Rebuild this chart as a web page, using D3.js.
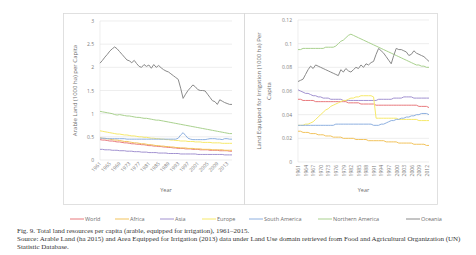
<!DOCTYPE html>
<html>
<head>
<meta charset="utf-8">
<script src="https://cdn.jsdelivr.net/npm/d3@7"></script>
<style>
  body { margin: 0; background: #fff; }
  svg { display: block; }
</style>
</head>
<body>
<svg id="chart" width="476" height="255"></svg>
<script>
// ---- data ----
var regions = ["World", "Africa", "Asia", "Europe", "South America", "Northern America", "Oceania"]
var colors = ["#e8797d", "#f2c35c", "#a292d0", "#f6e96a", "#8eb0e0", "#a9d18e", "#8a8a8a"]

var arableYears = d3.range(1961, 2016)
var arableTicks = [1961, 1965, 1969, 1973, 1977, 1981, 1985, 1989, 1993, 1997, 2001, 2005, 2009, 2013]
var arableWorld = [0.44,0.43,0.43,0.42,0.41,0.41,0.40,0.39,0.39,0.38, 0.37,0.37,0.36,0.35,0.35,0.34,0.34,0.33,0.33,0.32,
  0.31,0.31,0.30,0.30,0.29,0.29,0.28,0.28,0.27,0.27, 0.26,0.26,0.25,0.25,0.25,0.24,0.24,0.24,0.23,0.23,
  0.23,0.22,0.22,0.22,0.22,0.21,0.21,0.21,0.21,0.20, 0.20,0.20,0.20,0.19,0.19]
var arableAfrica = [0.48,0.47,0.46,0.46,0.45,0.44,0.43,0.43,0.42,0.41, 0.40,0.40,0.39,0.38,0.37,0.37,0.36,0.35,0.35,0.34,
  0.33,0.33,0.32,0.31,0.31,0.30,0.30,0.29,0.29,0.28, 0.28,0.27,0.27,0.26,0.26,0.26,0.25,0.25,0.25,0.24,
  0.24,0.24,0.23,0.23,0.23,0.23,0.22,0.22,0.22,0.22, 0.22,0.21,0.21,0.21,0.21]
var arableAsia = [0.23,0.23,0.22,0.22,0.22,0.21,0.21,0.21,0.20,0.20, 0.20,0.19,0.19,0.19,0.18,0.18,0.18,0.17,0.17,0.17,
  0.16,0.16,0.16,0.16,0.15,0.15,0.15,0.15,0.14,0.14, 0.14,0.14,0.14,0.13,0.13,0.13,0.13,0.13,0.13,0.13,
  0.12,0.12,0.12,0.12,0.12,0.12,0.12,0.12,0.12,0.12, 0.12,0.11,0.11,0.11,0.11]
var arableEurope = [0.63,0.62,0.61,0.60,0.59,0.58,0.57,0.56,0.56,0.55, 0.54,0.54,0.53,0.52,0.52,0.51,0.50,0.50,0.49,0.49,
  0.48,0.47,0.47,0.46,0.46,0.45,0.45,0.44,0.44,0.43, 0.43,0.42,0.42,0.41,0.41,0.41,0.40,0.40,0.40,0.39,
  0.39,0.39,0.38,0.38,0.38,0.38,0.37,0.37,0.37,0.37, 0.36,0.36,0.36,0.36,0.36]
var arableSAmerica = [0.47,0.47,0.47,0.46,0.46,0.46,0.46,0.46,0.46,0.46, 0.46,0.45,0.45,0.45,0.45,0.45,0.45,0.45,0.45,0.45,
  0.45,0.45,0.45,0.45,0.45,0.45,0.45,0.45,0.45,0.45, 0.45,0.45,0.47,0.54,0.59,0.53,0.47,0.45,0.44,0.44,
  0.44,0.44,0.44,0.44,0.45,0.46,0.46,0.46,0.45,0.45, 0.44,0.46,0.46,0.45,0.45]
var arableNAmerica = [1.05,1.04,1.03,1.02,1.01,1.00,0.98,0.97,0.98,0.97, 0.96,0.95,0.95,0.94,0.93,0.92,0.92,0.91,0.90,0.90,
  0.89,0.88,0.87,0.86,0.86,0.85,0.84,0.83,0.82,0.81, 0.80,0.79,0.78,0.77,0.76,0.75,0.74,0.73,0.72,0.71,
  0.70,0.69,0.68,0.67,0.66,0.65,0.64,0.63,0.62,0.61, 0.60,0.59,0.58,0.57,0.57]
var arableOceania = [2.09,2.15,2.22,2.28,2.35,2.40,2.44,2.40,2.34,2.28, 2.22,2.16,2.14,2.10,2.15,2.08,2.02,2.00,2.06,2.02,
  2.05,1.98,2.06,2.00,2.04,1.99,1.95,1.92,1.90,1.86, 1.82,1.78,1.74,1.55,1.33,1.42,1.50,1.56,1.62,1.58,
  1.52,1.50,1.50,1.49,1.42,1.35,1.28,1.26,1.20,1.30, 1.27,1.24,1.22,1.20,1.20]

var irrigYears = d3.range(1961, 2014)
var irrigTicks = [1961, 1964, 1967, 1970, 1973, 1976, 1979, 1982, 1985, 1988, 1991, 1994, 1997, 2000, 2003, 2006, 2009, 2012]
var irrigWorld = [0.053,0.053,0.052,0.052,0.052,0.052,0.052,0.051,0.051,0.051, 0.051,0.051,0.051,0.051,0.051,0.051,0.051,0.051,0.051,0.051,
  0.050,0.050,0.050,0.050,0.050,0.049,0.049,0.049,0.049,0.049, 0.049,0.048,0.048,0.048,0.048,0.048,0.048,0.048,0.048,0.048,
  0.048,0.048,0.048,0.048,0.048,0.048,0.048,0.048,0.047,0.047, 0.047,0.047,0.046]
var irrigAfrica = [0.026,0.026,0.025,0.025,0.025,0.024,0.024,0.024,0.023,0.023, 0.023,0.022,0.022,0.022,0.021,0.021,0.021,0.021,0.020,0.020,
  0.020,0.020,0.020,0.019,0.019,0.019,0.019,0.019,0.018,0.018, 0.018,0.018,0.018,0.018,0.018,0.017,0.017,0.017,0.017,0.017,
  0.016,0.016,0.016,0.016,0.016,0.016,0.015,0.015,0.015,0.015, 0.015,0.014,0.014]
var irrigAsia = [0.061,0.060,0.059,0.058,0.058,0.057,0.056,0.056,0.055,0.055, 0.054,0.054,0.054,0.053,0.053,0.053,0.053,0.053,0.052,0.052,
  0.052,0.052,0.052,0.052,0.052,0.052,0.052,0.052,0.052,0.052, 0.052,0.052,0.053,0.053,0.053,0.053,0.053,0.053,0.054,0.054,
  0.054,0.054,0.055,0.055,0.055,0.055,0.054,0.054,0.054,0.054, 0.054,0.054,0.054]
var irrigEurope = [0.031,0.031,0.031,0.032,0.032,0.033,0.034,0.036,0.038,0.040, 0.042,0.044,0.045,0.047,0.048,0.049,0.050,0.051,0.052,0.052,
  0.053,0.054,0.054,0.055,0.055,0.056,0.056,0.056,0.056,0.056, 0.055,0.037,0.037,0.037,0.037,0.037,0.037,0.037,0.037,0.037,
  0.036,0.036,0.036,0.036,0.036,0.036,0.036,0.036,0.035,0.035, 0.035,0.035,0.035]
var irrigSAmerica = [0.031,0.031,0.031,0.031,0.031,0.031,0.031,0.031,0.031,0.031, 0.031,0.031,0.031,0.031,0.031,0.032,0.032,0.032,0.032,0.032,
  0.032,0.032,0.032,0.032,0.032,0.032,0.032,0.032,0.032,0.032, 0.031,0.031,0.031,0.032,0.032,0.033,0.034,0.035,0.035,0.036,
  0.036,0.037,0.037,0.038,0.038,0.039,0.039,0.040,0.040,0.041, 0.041,0.041,0.040]
var irrigNAmerica = [0.095,0.095,0.096,0.096,0.096,0.096,0.096,0.096,0.096,0.096, 0.096,0.097,0.097,0.097,0.097,0.098,0.100,0.102,0.103,0.105,
  0.107,0.108,0.107,0.106,0.105,0.104,0.103,0.102,0.101,0.100, 0.099,0.098,0.097,0.096,0.095,0.094,0.093,0.092,0.091,0.090,
  0.089,0.088,0.087,0.086,0.085,0.084,0.083,0.082,0.082,0.081, 0.081,0.080,0.080]
var irrigOceania = [0.068,0.069,0.070,0.074,0.078,0.081,0.079,0.082,0.081,0.080, 0.079,0.078,0.077,0.076,0.075,0.074,0.073,0.078,0.076,0.079,
  0.077,0.076,0.078,0.080,0.079,0.082,0.080,0.083,0.082,0.084, 0.085,0.091,0.096,0.094,0.092,0.089,0.086,0.083,0.090,0.096,
  0.095,0.095,0.094,0.093,0.090,0.091,0.094,0.092,0.091,0.090, 0.089,0.087,0.085]

var arableSeries = [arableWorld, arableAfrica, arableAsia, arableEurope, arableSAmerica, arableNAmerica, arableOceania]
var irrigSeries = [irrigWorld, irrigAfrica, irrigAsia, irrigEurope, irrigSAmerica, irrigNAmerica, irrigOceania]

// ---- drawing ----
var svg = d3.select("#chart")
var sans = "'Open Sans', 'Liberation Sans', sans-serif"
var serif = "'Liberation Serif', 'DejaVu Serif', serif"

// panel frames
svg.append("rect").attr("x", 63.5).attr("y", 13.5).attr("width", 181).attr("height", 191)
  .attr("fill", "none").attr("stroke", "#d9d9d9").attr("stroke-width", 0.8)
svg.append("rect").attr("x", 244.5).attr("y", 13.5).attr("width", 193).attr("height", 191)
  .attr("fill", "none").attr("stroke", "#d9d9d9").attr("stroke-width", 0.8)

function drawPanel(opt) {
  let x = d3.scalePoint().domain(opt.years).range([opt.left, opt.right]).padding(0)
  let y = d3.scaleLinear().domain([0, opt.ymax]).range([opt.bottom, opt.top])
  let g = svg.append("g")

  // gridlines
  g.selectAll(".grid").data(opt.yticks).enter().append("line")
    .attr("x1", opt.left).attr("x2", opt.right)
    .attr("y1", d => y(d)).attr("y2", d => y(d))
    .attr("stroke", "#e3e3e3").attr("stroke-width", 0.6)
  g.append("line").attr("x1", opt.left).attr("x2", opt.left)
    .attr("y1", opt.top).attr("y2", opt.bottom)
    .attr("stroke", "#e3e3e3").attr("stroke-width", 0.6)

  // y axis
  let ya = g.append("g").attr("transform", "translate(" + (opt.left - 3) + ",0)")
    .call(d3.axisLeft(y).tickValues(opt.yticks).tickSize(0).tickFormat(d => String(+d.toFixed(2))))
  ya.select(".domain").remove()
  ya.selectAll("text").attr("font-family", sans).attr("font-size", 5).attr("fill", "#7a7a7a")

  // x axis
  let xa = g.append("g").attr("transform", "translate(0," + (opt.bottom + 3) + ")")
    .call(d3.axisBottom(x).tickValues(opt.ticks).tickSize(0))
  xa.select(".domain").remove()
  xa.selectAll("text").attr("font-family", sans).attr("font-size", 5).attr("fill", "#7a7a7a")
    .attr("text-anchor", "end")
    .attr("dy", opt.rotate === -90 ? "0.35em" : "0.3em")
    .attr("y", 0).attr("x", 0)
    .attr("transform", "rotate(" + opt.rotate + ")")

  // lines
  let line = d3.line().x((d, i) => x(opt.years[i])).y(d => y(d))
  g.selectAll(".series").data(opt.series).enter().append("path")
    .attr("d", d => line(d))
    .attr("fill", "none")
    .attr("stroke", (d, i) => colors[i])
    .attr("stroke-width", 1)
    .attr("stroke-linejoin", "round")

  // axis titles
  g.append("text").attr("x", (opt.left + opt.right) / 2).attr("y", 192)
    .attr("text-anchor", "middle").attr("font-family", sans).attr("font-size", 5.5)
    .attr("fill", "#6e6e6e").text("Year")
  opt.ytitle.forEach(function(t, k) {
    g.append("text")
      .attr("transform", "translate(" + opt.titleX[k] + "," + (opt.top + opt.bottom) / 2 + ") rotate(-90)")
      .attr("text-anchor", "middle").attr("font-family", sans).attr("font-size", 6)
      .attr("fill", "#6e6e6e").text(t)
  })
}

drawPanel({
  years: arableYears, ticks: arableTicks, series: arableSeries,
  left: 100, right: 232, top: 21, bottom: 160, ymax: 3,
  yticks: [0, 0.5, 1, 1.5, 2, 2.5, 3], rotate: -45,
  ytitle: ["Arable Land (1000 ha) per Capita"], titleX: [77]
})

drawPanel({
  years: irrigYears, ticks: irrigTicks, series: irrigSeries,
  left: 298, right: 429, top: 20, bottom: 162, ymax: 0.12,
  yticks: [0, 0.02, 0.04, 0.06, 0.08, 0.1, 0.12], rotate: -90,
  ytitle: ["Land Equipped for Irrigation (1000 ha) Per", "Capita"], titleX: [261, 271]
})

// legend
var legendX = [70, 115, 160, 202, 249, 318, 406]
var leg = svg.append("g")
regions.forEach(function(r, i) {
  leg.append("line").attr("x1", legendX[i]).attr("x2", legendX[i] + 14)
    .attr("y1", 219).attr("y2", 219)
    .attr("stroke", colors[i]).attr("stroke-width", 1)
  leg.append("text").attr("x", legendX[i] + 15).attr("y", 221)
    .attr("font-family", sans).attr("font-size", 5.5).attr("fill", "#6e6e6e").text(r)
})

// caption
var caption = [
  "Fig. 9. Total land resources per capita (arable, equipped for irrigation), 1961\u20132015.",
  "Source: Arable Land (ha 2015) and Area Equipped for Irrigation (2013) data under Land Use domain retrieved from Food and Agricultural Organization (UN)",
  "Statistic Database."
]
caption.forEach(function(t, k) {
  svg.append("text").attr("x", 17).attr("y", 233 + k * 8)
    .attr("font-family", serif).attr("font-size", 7).attr("fill", "#333").text(t)
})
</script>
</body>
</html>
